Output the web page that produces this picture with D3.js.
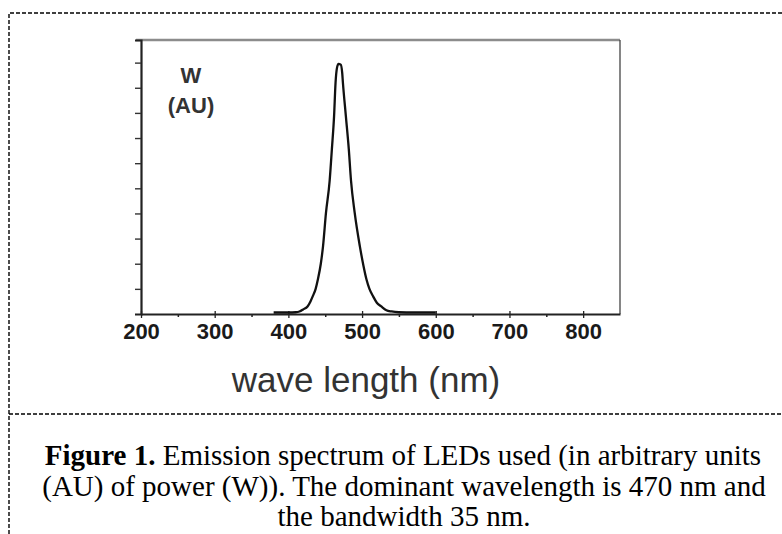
<!DOCTYPE html>
<html>
<head>
<meta charset="utf-8">
<script src="https://cdn.jsdelivr.net/npm/d3@7"></script>
<style>
  html, body { margin: 0; padding: 0; background: #fff; }
  svg { display: block; }
</style>
</head>
<body>
<svg id="chart" width="782" height="534"></svg>
<script>
// ---- data ----
const wavelength = [380, 400, 410, 415, 420, 426, 430, 433, 437, 440, 444, 447, 451, 456, 459, 462, 464, 466, 468, 471, 473, 474, 478, 482, 485, 490, 497, 502, 506, 510, 515, 520, 526, 533, 540, 550, 570, 600];
const power      = [0.06, 0.06, 0.07, 0.1, 0.18, 0.3, 0.5, 0.7, 1.0, 1.37, 2.0, 2.69, 4.02, 5.3, 6.55, 7.87, 9.2, 9.8, 9.95, 9.92, 9.6, 9.2, 7.87, 6.55, 5.3, 4.02, 2.69, 1.9, 1.37, 1.0, 0.7, 0.45, 0.3, 0.15, 0.1, 0.07, 0.06, 0.06];
const xMajorTicks = [200, 300, 400, 500, 600, 700, 800];
const xMinorTicks = [250, 350, 450, 550, 650, 750];
const yTicks = [1, 2, 3, 4, 5, 6, 7, 8, 9, 10];
const unitLabel = ["W", "(AU)"];
const xTitle = "wave length (nm)";
const captionBold = "Figure 1.";
const captionLines = [
  " Emission spectrum of LEDs used (in arbitrary units",
  "(AU) of power (W)). The dominant wavelength is 470 nm and",
  "the bandwidth 35 nm."
];

const svg = d3.select("#chart");

// ---- frame (dashed) ----
svg.append("path")
  .attr("d", "M9,540 L9,13 L790,13")
  .attr("fill", "none").attr("stroke", "#000")
  .attr("stroke-width", 1.4).attr("stroke-dasharray", "4,2");
svg.append("path")
  .attr("d", "M9,414 L790,414")
  .attr("fill", "none").attr("stroke", "#000")
  .attr("stroke-width", 1.4).attr("stroke-dasharray", "4,2");

// ---- scales ----
const L = 141, R = 620, T = 40, B = 314;
const x = d3.scaleLinear().domain([200, 850]).range([L, R]);
const y = d3.scaleLinear().domain([0, 10.9]).range([B, T]);

// top spine (gray) and right spine
svg.append("line").attr("x1", L - 5).attr("x2", R).attr("y1", T).attr("y2", T)
  .attr("stroke", "#8c8c8c").attr("stroke-width", 2.5);
svg.append("line").attr("x1", R).attr("x2", R).attr("y1", T).attr("y2", B)
  .attr("stroke", "#444").attr("stroke-width", 1.3);

// y axis (no labels)
const gy = svg.append("g").attr("transform", `translate(${L},0)`)
  .call(d3.axisLeft(y).tickValues(yTicks).tickSize(6).tickFormat(""));
gy.select(".domain").attr("stroke", "#222").attr("stroke-width", 2.2);
gy.selectAll(".tick line").attr("stroke", "#333").attr("stroke-width", 1.4);

// x axis minor ticks
const gxm = svg.append("g").attr("transform", `translate(0,${B})`)
  .call(d3.axisBottom(x).tickValues(xMinorTicks).tickSize(3).tickFormat(""));
gxm.select(".domain").remove();
gxm.selectAll(".tick line").attr("stroke", "#222").attr("stroke-width", 1.5);

// x axis major
const gx = svg.append("g").attr("transform", `translate(0,${B})`)
  .call(d3.axisBottom(x).tickValues(xMajorTicks).tickSize(4).tickPadding(5).tickSizeOuter(0));
gx.select(".domain").attr("stroke", "#222").attr("stroke-width", 1.8);
gx.selectAll(".tick line").attr("y1", -3).attr("stroke", "#222").attr("stroke-width", 1.3);
gx.selectAll(".tick text")
  .attr("font-family", "'Liberation Sans', Arial, sans-serif")
  .attr("font-weight", "bold").attr("font-size", 22).attr("fill", "#1a1a1a");

// ---- spectrum line ----
const pts = wavelength.map((w, i) => [w, power[i]]);
svg.append("path")
  .datum(pts)
  .attr("fill", "none").attr("stroke", "#111").attr("stroke-width", 2.3)
  .attr("stroke-linejoin", "round")
  .attr("d", d3.line().x(d => x(d[0])).y(d => y(d[1])).curve(d3.curveMonotoneX));

// ---- unit label ----
svg.append("g").selectAll("text").data(unitLabel).join("text")
  .attr("x", 191).attr("y", (d, i) => 83 + i * 30)
  .attr("text-anchor", "middle")
  .attr("font-family", "'Liberation Sans', Arial, sans-serif")
  .attr("font-weight", "bold").attr("font-size", 22).attr("fill", "#333")
  .text(d => d);

// ---- x title ----
svg.append("text")
  .attr("x", 366).attr("y", 392).attr("text-anchor", "middle")
  .attr("font-family", "'Liberation Sans', Arial, sans-serif")
  .attr("font-size", 35).attr("fill", "#333")
  .text(xTitle);

// ---- caption ----
const cap = svg.append("g")
  .attr("font-family", "'Liberation Serif', 'Times New Roman', serif")
  .attr("font-size", 29).attr("fill", "#000").attr("text-anchor", "middle");
const t1 = cap.append("text").attr("x", 403).attr("y", 465);
t1.append("tspan").attr("font-weight", "bold").text(captionBold);
t1.append("tspan").text(captionLines[0]);
cap.append("text").attr("x", 404).attr("y", 496).text(captionLines[1]);
cap.append("text").attr("x", 404).attr("y", 526).text(captionLines[2]);
</script>
</body>
</html>
